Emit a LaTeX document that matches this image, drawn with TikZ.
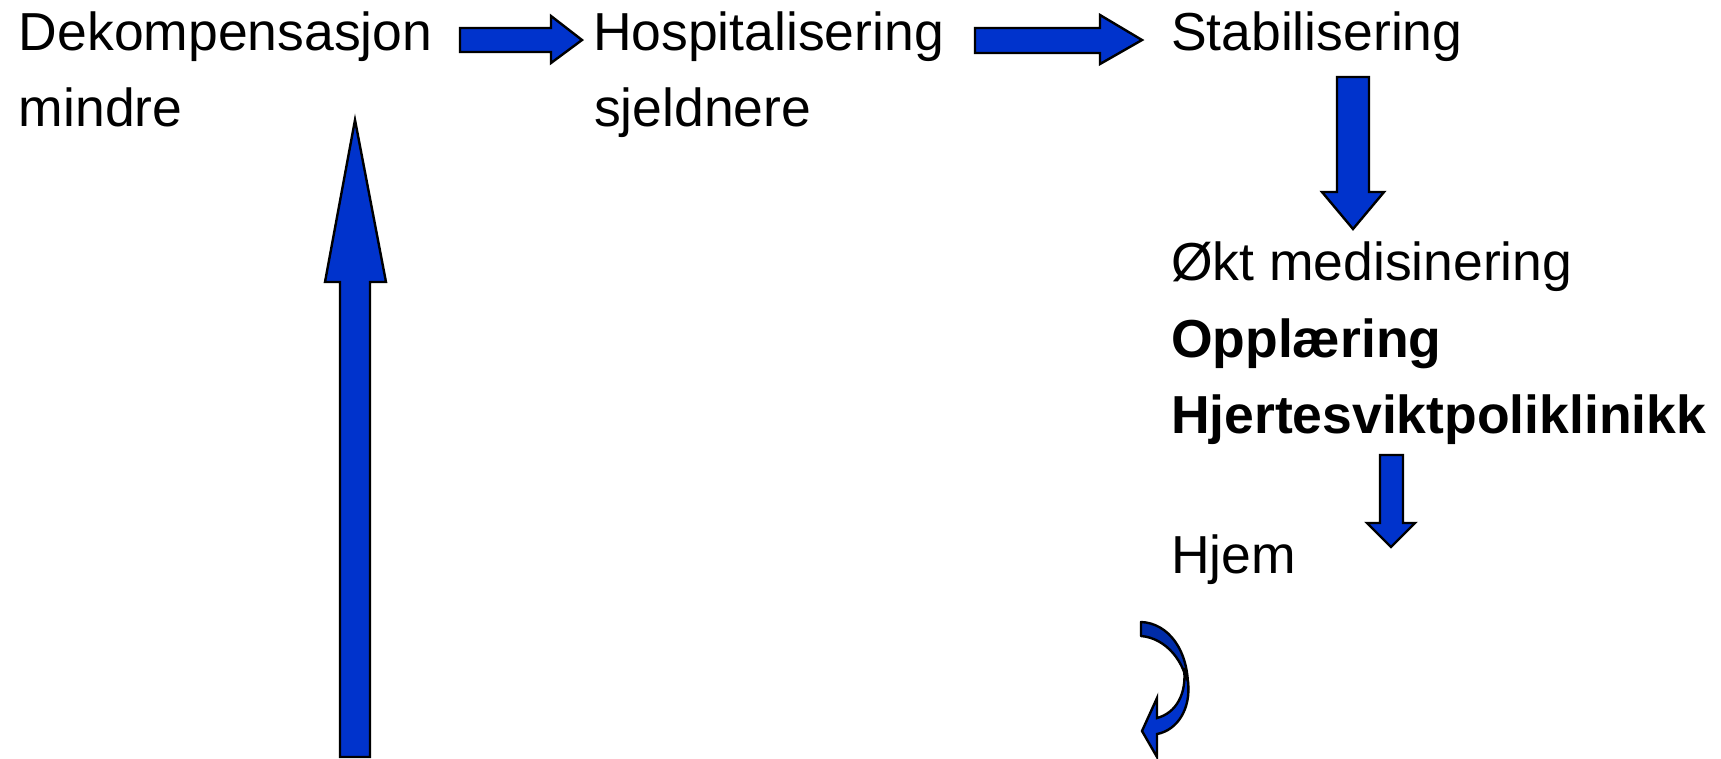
\documentclass[tikz,border=0pt]{standalone}
\usepackage{fontspec}
\setmainfont{Liberation Sans}
\definecolor{ablue}{RGB}{0,51,204}
\definecolor{dblue}{RGB}{0,44,168}
\tikzset{
  blockarrow/.style={fill=ablue, draw=black, line width=2.4pt, line join=miter},
  darkarrow/.style={fill=dblue, draw=black, line width=2.4pt, line join=round},
  lbl/.style={anchor=base west, inner sep=0pt, outer sep=0pt, font=\fontsize{53.5}{60}\selectfont},
  blbl/.style={lbl, font=\fontsize{53.5}{60}\selectfont\bfseries}
}
\begin{document}
\begin{tikzpicture}[x=1pt,y=-1pt]
\useasboundingbox (0,0) rectangle (1721,758);
% texts
\node[lbl] (dek) at (19,50) {Dekompensasjon};
\node[lbl] (mindre) at (19,126) {mindre};
\node[lbl] (hosp) at (593,50) {Hospitalisering};
\node[lbl] (sjeld) at (594,126) {sjeldnere};
\node[lbl] (stab) at (1171,50) {Stabilisering};
\node[lbl] (okt) at (1171,280) {Økt medisinering};
\node[blbl] (oppl) at (1171,357) {Opplæring};
\node[blbl] (hjsv) at (1171,433) {Hjertesviktpoliklinikk};
\node[lbl] (hjem) at (1171,573) {Hjem};
% right arrow 1
\draw[blockarrow] (460,28) -- (551,28) -- (551,16) -- (582,40) -- (551,63) -- (551,52) -- (460,52) -- cycle;
% right arrow 2
\draw[blockarrow] (975,28) -- (1100,28) -- (1100,15) -- (1142,40) -- (1100,64) -- (1100,53) -- (975,53) -- cycle;
% big down arrow
\draw[blockarrow] (1337,77) -- (1369,77) -- (1369,192) -- (1384,192) -- (1353,229) -- (1322,192) -- (1337,192) -- cycle;
% small down arrow
\draw[blockarrow] (1380,455) -- (1403,455) -- (1403,523) -- (1415,523) -- (1391,547) -- (1367,523) -- (1380,523) -- cycle;
% up arrow
\draw[blockarrow] (340,757) -- (340,282) -- (325,282) -- (355,120) -- (386,282) -- (370,282) -- (370,757) -- cycle;
% curved arrow
\draw[darkarrow] (1141,622) .. controls (1168,623) and (1189,650) .. (1188,690)
   .. controls (1186,662) and (1166,638) .. (1141,636) -- cycle;
\draw[blockarrow] (1184,668) .. controls (1187,694) and (1176,713) .. (1157,718)
   -- (1157,698) -- (1142,731) -- (1157,757) -- (1157,734)
   .. controls (1178,730) and (1191,708) .. (1188,682) -- cycle;
\end{tikzpicture}
\end{document}
